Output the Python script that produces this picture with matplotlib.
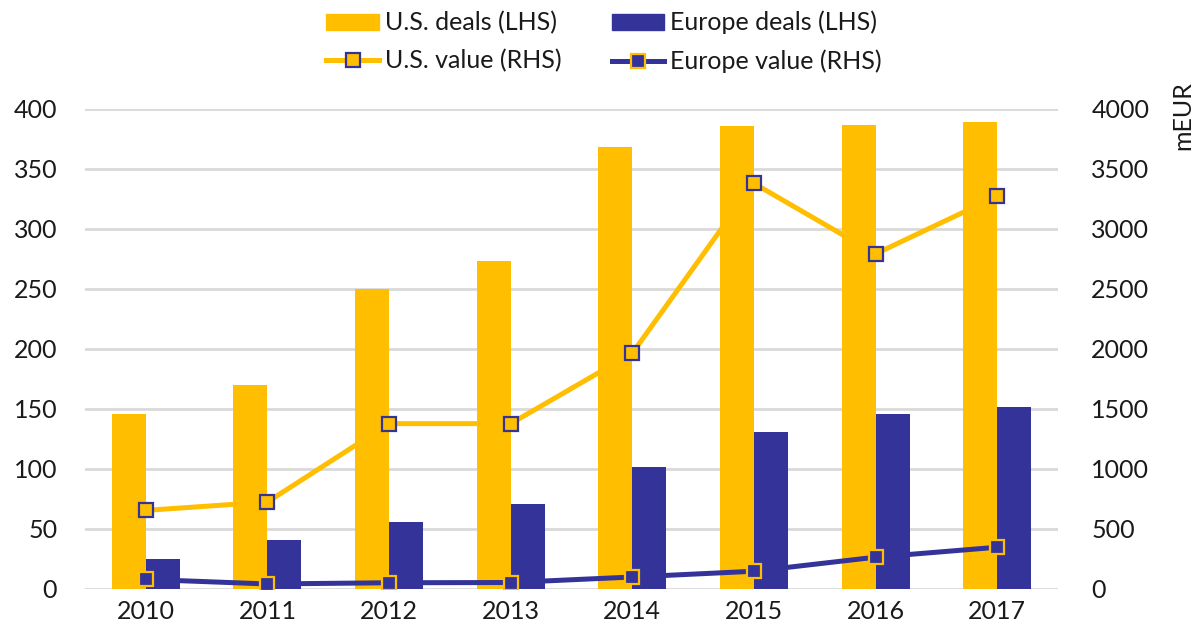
import numpy as np
import matplotlib
matplotlib.use('Agg')
import matplotlib.pyplot as plt
from matplotlib.lines import Line2D
from matplotlib.patches import Patch

# deal counts (left axis) and deal values in mEUR (right axis)
years = ['2010', '2011', '2012', '2013', '2014', '2015', '2016', '2017']
us_deals = [146, 170, 250, 273, 368, 386, 387, 389]
europe_deals = [25, 41, 56, 71, 102, 131, 146, 152]
us_value = [655, 725, 1378, 1378, 1965, 3380, 2793, 3273]
europe_value = [80, 42, 52, 54, 100, 148, 265, 348]

YELLOW = '#FFBF00'
BLUE = '#333399'
GRID = '#D9D9D9'
TEXT = '#1a1a1a'

plt.rcParams['font.family'] = ['Lato', 'DejaVu Sans']
plt.rcParams['font.size'] = 18

fig = plt.figure(figsize=(11.98, 6.37), dpi=100)
ax = fig.add_axes([85 / 1198, 1 - 589 / 637, (1058 - 85) / 1198, (589 - 109) / 637])
ax2 = ax.twinx()

x = np.arange(len(years))
w = 0.28
ax.bar(x - w / 2, us_deals, w, color=YELLOW, zorder=2)
ax.bar(x + w / 2, europe_deals, w, color=BLUE, zorder=2)

ax2.plot(x, us_value, color=YELLOW, lw=3.6, marker='s', ms=10,
         mfc=YELLOW, mec=BLUE, mew=1.6, zorder=3)
ax2.plot(x, europe_value, color=BLUE, lw=3.6, marker='s', ms=10,
         mfc=BLUE, mec=YELLOW, mew=1.6, zorder=3)

ax.set_xlim(-0.5, len(years) - 0.5)
ax.set_ylim(0, 400)
ax2.set_ylim(0, 4000)
ax.set_yticks(np.arange(0, 401, 50))
ax2.set_yticks(np.arange(0, 4001, 500))
ax.set_xticks(x)
ax.set_xticklabels(years)

ax.yaxis.grid(True, color=GRID, lw=2)
ax.set_axisbelow(True)
for a in (ax, ax2):
    for s in a.spines.values():
        s.set_visible(False)
ax.tick_params(axis='y', length=0, pad=20, colors=TEXT)
ax.tick_params(axis='x', length=0, pad=8, colors=TEXT)
ax2.tick_params(axis='y', length=0, pad=24, colors=TEXT)

fig.text(1183 / 1198, 1 - 116 / 637, 'mEUR', rotation=90,
         ha='center', va='center', color=TEXT)

handles = [
    Patch(color=YELLOW),
    Line2D([], [], color=YELLOW, lw=3.6, marker='s', ms=10, mfc=YELLOW, mec=BLUE, mew=1.6),
    Patch(color=BLUE),
    Line2D([], [], color=BLUE, lw=3.6, marker='s', ms=10, mfc=BLUE, mec=YELLOW, mew=1.6),
]
labels = ['U.S. deals (LHS)', 'U.S. value (RHS)', 'Europe deals (LHS)', 'Europe value (RHS)']
leg = fig.legend(handles, labels, ncol=2, loc='center', bbox_to_anchor=(604 / 1198, 1 - 42 / 637),
                 frameon=False, handlelength=2.1, handletextpad=0.24, columnspacing=2.0,
                 labelspacing=0.6, handleheight=0.6)
for t in leg.get_texts():
    t.set_color(TEXT)

fig.savefig('out.png', dpi=100)
